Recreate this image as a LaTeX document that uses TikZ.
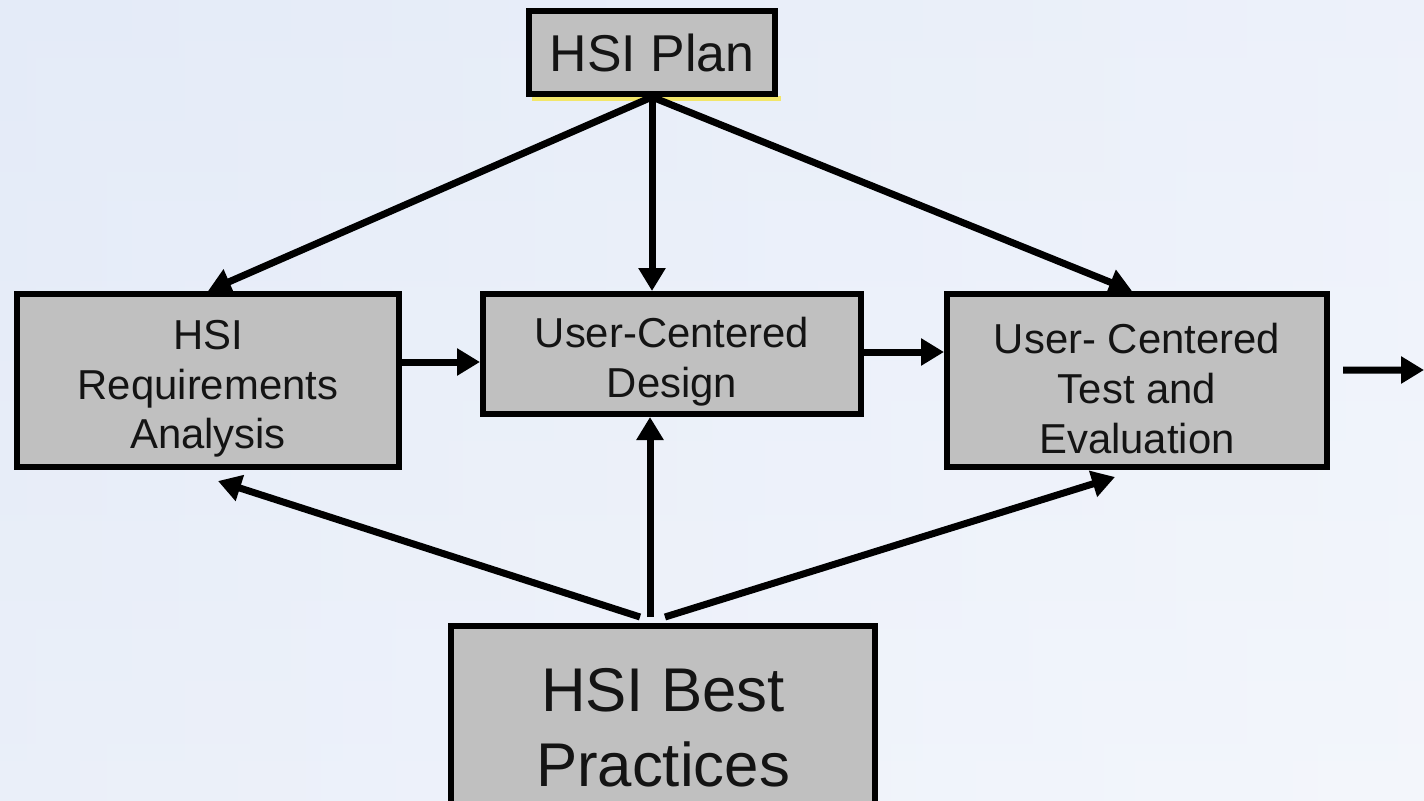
\documentclass[tikz,border=0pt]{standalone}
\usepackage{fontspec}
\setmainfont{Liberation Sans}
\usetikzlibrary{arrows.meta,calc}
\definecolor{boxgray}{HTML}{C0C0C0}
\definecolor{bgtop}{HTML}{E4EBF8}
\definecolor{bgbot}{HTML}{EEF2FA}
\definecolor{shadowy}{HTML}{F2E66A}
\newcommand{\topstrut}{\rule{0pt}{46bp}}
\tikzset{
  box/.style={draw=black, line width=6bp, fill=boxgray, inner sep=0pt, align=center, text=black!92},
  arr/.style={line width=7bp, -{Triangle[length=23bp,width=26bp]}},
  smalltext/.style={font=\fontsize{42}{50}\selectfont},
}
\begin{document}
\begin{tikzpicture}[x=1bp,y=-1bp]
\useasboundingbox (0,0) rectangle (1424,800);
\shade[top color=bgtop, bottom color=bgbot] (0,0) rectangle (1424,800);
\shade[left color=bgtop, right color=white, opacity=0.35] (0,0) rectangle (1424,800);
% yellow shadow under plan box
\fill[shadowy] (532,96) rectangle (781,101);
\node[box, minimum width=246bp, minimum height=83bp, font=\fontsize{52}{60}\selectfont] (plan) at (652,52.5) {HSI Plan};
\node[box, smalltext, minimum width=382bp, minimum height=173bp] (req) at (208,380.5) {\topstrut HSI\\Requirements\\Analysis};
\node[box, smalltext, minimum width=378bp, minimum height=120bp] (design) at (672,354) {\topstrut User-Centered\\Design};
\node[box, smalltext, minimum width=380bp, minimum height=173bp] (test) at (1137,380.5) {\topstrut User- Centered\\Test and\\Evaluation};
\node[box, minimum width=424bp, minimum height=204bp, font=\fontsize{62}{75}\selectfont] (best) at (663,728) {HSI Best\\Practices};
\coordinate (out) at (1424,370);
% from plan
\draw[arr] (plan.south) -- (req.north);
\draw[arr] (plan.south) -- (plan.south |- design.north);
\draw[arr] (plan.south) -- ($(test.north)+(-5,0)$);
% horizontal flow
\coordinate (rd) at ([yshift=18.5bp]req.east);
\draw[arr] (rd) -- (rd -| design.west);
\coordinate (dt) at ([yshift=2bp]design.east);
\draw[arr] (dt) -- (dt -| test.west);
\draw[arr] ([xshift=13bp,yshift=10.5bp]test.east) -- (out);
% from best practices
\coordinate (b1) at ($(best.north)+(-23,-6)$);
\coordinate (b2) at ($(best.north)+(-13,-6)$);
\coordinate (b3) at ($(best.north)+(2,-6)$);
\draw[arr] (b1) -- ($(req.south)+(10,11)$);
\draw[arr] (b2) -- (b2 |- design.south);
\draw[arr] (b3) -- ($(test.south)+(-22,7)$);
\end{tikzpicture}
\end{document}
